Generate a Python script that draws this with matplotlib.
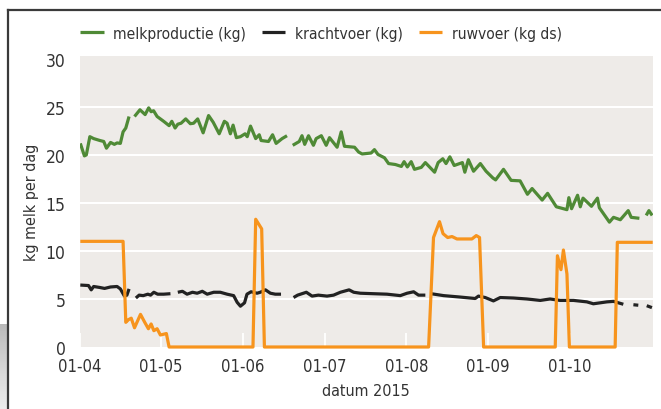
import matplotlib
matplotlib.use('Agg')
import matplotlib.pyplot as plt
import numpy as np
from matplotlib.lines import Line2D
from matplotlib import font_manager as fm

cands = [f for f in fm.fontManager.ttflist
         if 'narrow' in f.name.lower() or 'condensed' in f.name.lower()
         or 'condensed' in str(f.stretch).lower() or 'narrow' in f.fname.lower()
         or 'condensed' in f.fname.lower()]
cond_family = None
for f in cands:
    if 'Liberation' in f.name and 'Narrow' in f.name:
        cond_family = f.name
        break
if cond_family is None:
    for f in cands:
        if 'DejaVu Sans' in f.name or 'DejaVuSansCondensed' in f.fname:
            cond_family = f.name
            break
plt.rcParams['font.family'] = ['DejaVu Sans']
plt.rcParams['font.stretch'] = 'condensed'

nan = np.nan

# x = day index, 0 = 1 April 2015
tick_days = [0, 30, 60, 90, 120, 150, 180]
tick_labels = ['01-04', '01-05', '01-06', '01-07', '01-08', '01-09', '01-10']

melk_dag = [0.3, 1.8, 2.5, 3.8, 5.2, 7.5, 8.9, 9.9, 11.4, 12.8, 13.8, 15.0, 16.0, 17.0, 18.2,
            19.2,
            20.2, 22.2, 24.1, 25.4, 26.3, 27.2, 28.5, 30.9, 32.9, 33.9, 35.1, 36.1, 37.3, 39.0,
            40.7, 41.9, 43.4, 45.4, 47.4, 49.1, 51.3, 53.2, 54.2, 55.4, 56.4, 57.6, 59.1, 60.8,
            61.6, 62.8, 64.7, 66.0, 66.7, 69.4, 70.9, 72.2, 74.4, 76.2,
            77.2,
            78.3, 80.7, 81.7, 82.7, 84.1, 85.9, 86.9, 88.8, 90.6, 91.8, 94.6, 96.1, 97.3, 101.0,
            102.5, 103.8, 107.1, 108.3, 109.6, 112.0, 113.5, 116.0, 118.2, 119.2, 120.4, 121.8,
            123.0, 125.5, 127.0, 130.4, 131.7, 133.4, 134.6, 136.0, 137.6, 140.6, 141.5, 142.8,
            144.7, 147.2, 149.3, 151.8, 152.8, 155.7, 158.5, 161.8, 164.5, 166.2, 169.9, 171.9,
            175.1, 179.0, 179.7, 180.7, 182.9, 183.9, 184.9, 188.0, 190.2, 190.9, 194.6, 196.1,
            198.6, 201.5, 202.6, 205.6,
            206.8,
            208.1, 209.1, 210.3]
melk_kg = [21.2, 19.9, 20.0, 21.9, 21.7, 21.5, 21.4, 20.7, 21.3, 21.1, 21.25, 21.2, 22.4, 22.8, 24.0,
           nan,
           24.0, 24.7, 24.2, 24.9, 24.5, 24.6, 24.0, 23.5, 23.05, 23.5, 22.8, 23.2, 23.3, 23.75,
           23.25, 23.3, 23.75, 22.3, 24.1, 23.4, 22.2, 23.5, 23.3, 22.2, 23.1, 21.8, 21.9, 22.2,
           21.9, 23.0, 21.7, 22.1, 21.5, 21.4, 22.1, 21.2, 21.7, 22.0,
           nan,
           21.0, 21.4, 22.0, 21.1, 22.0, 21.0, 21.7, 22.0, 21.0, 21.8, 20.8, 22.4, 20.9, 20.8,
           20.3, 20.1, 20.2, 20.55, 20.05, 19.7, 19.1, 19.0, 18.8, 19.3, 18.75, 19.3,
           18.5, 18.7, 19.2, 18.2, 19.2, 19.6, 19.1, 19.8, 18.9, 19.2, 18.2, 19.5,
           18.3, 19.1, 18.3, 17.6, 17.4, 18.5, 17.35, 17.3, 15.9, 16.5, 15.3, 16.0,
           14.6, 14.3, 15.55, 14.4, 15.8, 14.6, 15.5, 14.65, 15.5, 14.5, 13.0, 13.5,
           13.25, 14.2, 13.5, 13.4,
           nan,
           13.7, 14.2, 13.7]

kracht_dag = [0.3, 3.3, 4.3, 5.2, 7.4, 9.2, 11.4, 13.8, 15.0, 16.5, 17.4, 18.2,
              19.4,
              20.7, 21.9, 23.4, 25.1, 26.1, 27.3, 28.7, 30.9, 33.4,
              34.7,
              36.1, 37.8, 39.5, 41.5, 43.2, 45.1, 46.9, 49.3, 51.7, 54.2, 56.6, 57.9, 59.1, 60.6,
              61.5, 63.0, 65.2, 66.4, 68.3, 70.1, 71.9, 74.0,
              76.3,
              78.6, 80.1, 83.3, 85.4, 87.7, 90.9, 93.3, 95.8, 99.0, 100.7, 103.1, 107.9, 112.9,
              117.8, 120.3, 122.7, 124.5, 127.0,
              128.0,
              129.1, 133.7, 139.8, 145.3, 146.5, 149.0, 152.0, 154.5, 159.4, 164.3, 169.2, 172.8,
              176.5, 181.4, 186.3, 188.7, 193.7, 196.1, 199.7,
              201.5,
              203.4, 205.2,
              206.7,
              208.3, 210.2]
kracht_kg = [6.45, 6.4, 5.95, 6.3, 6.2, 6.1, 6.25, 6.3, 6.05, 5.3, 5.4, 6.05,
             nan,
             5.1, 5.4, 5.35, 5.5, 5.4, 5.7, 5.5, 5.5, 5.55,
             nan,
             5.7, 5.8, 5.5, 5.7, 5.6, 5.8, 5.5, 5.7, 5.7, 5.5, 5.35, 4.65, 4.25, 4.6,
             5.5, 5.75, 5.6, 5.7, 5.95, 5.6, 5.5, 5.5,
             nan,
             5.15, 5.4, 5.7, 5.3, 5.4, 5.3, 5.4, 5.7, 5.95, 5.7, 5.6, 5.55, 5.5,
             5.35, 5.6, 5.75, 5.4, 5.4,
             nan,
             5.55, 5.35, 5.2, 5.05, 5.3, 5.15, 4.8, 5.15, 5.1, 5.0, 4.85, 5.0,
             4.85, 4.85, 4.7, 4.5, 4.7, 4.75, 4.45,
             nan,
             4.4, 4.35,
             nan,
             4.3, 4.1]

ruw_dag = [0.3, 16.0, 17.0, 18.0, 19.0, 20.2, 22.4, 23.9, 25.3, 26.3, 27.3, 28.5, 29.7, 31.9,
           32.9, 63.7, 64.7, 66.9, 67.9, 128.2, 130.0, 132.2, 133.5, 135.2, 136.8, 138.6,
           144.1, 145.7, 146.9, 148.4, 174.7, 175.5, 176.8, 177.7, 179.0, 179.9, 196.7,
           197.5, 210.5]
ruw_kg = [11.0, 11.0, 2.57, 2.85, 3.0, 2.0, 3.4, 2.6, 1.9, 2.4, 1.7, 1.9, 1.25, 1.4,
          0, 0, 13.3, 12.3, 0, 0, 11.4, 13.05, 11.8, 11.4, 11.5, 11.25,
          11.25, 11.6, 11.4, 0, 0, 9.5, 8.05, 10.1, 7.6, 0, 0,
          10.9, 10.9]

W, H = 661, 410
fig = plt.figure(figsize=(W / 100, H / 100), dpi=100)
fig.patch.set_facecolor('white')

fig.add_artist(Line2D([8 / W, 1.0], [1 - 11 / H, 1 - 11 / H], color='#3a3a3a', lw=1.6,
                      transform=fig.transFigure))
fig.add_artist(Line2D([8 / W, 8 / W], [0, 1 - 11 / H], color='#3a3a3a', lw=1.6,
                      transform=fig.transFigure))
gax = fig.add_axes([0, 0, 7 / W, 85 / H])
grad = np.linspace(0, 1, 50).reshape(-1, 1)
gax.imshow(grad, aspect='auto', cmap='Greys_r', vmin=-2.5, vmax=1.6, origin='upper')
gax.axis('off')

ax = fig.add_axes([79.5 / W, 1 - 348 / H, (653 - 79.5) / W, (348 - 57) / H])
ax.set_facecolor('#eeebe8')
for s in ax.spines.values():
    s.set_visible(False)

for yv in [5, 10, 15, 20, 25]:
    ax.axhline(yv, color='white', lw=1.5, zorder=1)

green = '#4f8a36'
orange = '#f7941d'
black = '#222222'

l1, = ax.plot(melk_dag, melk_kg, color=green, lw=2.3, solid_joinstyle='round',
              solid_capstyle='butt', zorder=3, label='melkproductie (kg)')
l2, = ax.plot(kracht_dag, kracht_kg, color=black, lw=2.3, solid_joinstyle='round',
              solid_capstyle='butt', zorder=3, label='krachtvoer (kg)')
l3, = ax.plot(ruw_dag, ruw_kg, color=orange, lw=2.3, solid_joinstyle='round',
              solid_capstyle='butt', zorder=4, clip_on=False, label='ruwvoer (kg ds)')

ax.set_xlim(0, 210.6)
ax.set_ylim(0, 30.3)
ax.set_yticks([0, 5, 10, 15, 20, 25, 30])
ax.set_yticklabels(['0', '5', '10', '15', '20', '25', '30'])
ax.set_xticks(tick_days)
ax.set_xticklabels(tick_labels)
ax.tick_params(axis='y', length=0, pad=10, labelsize=12.5, labelcolor='#333333')
ax.tick_params(axis='x', direction='in', length=10, width=1.3, color='white',
               pad=7, labelsize=12, labelcolor='#333333')

ax.set_ylabel('kg melk per dag', fontsize=11.5, color='#333333', labelpad=5)
ax.set_xlabel('datum 2015', fontsize=11.5, color='#333333', labelpad=6)

fig.legend(handles=[l1, l2, l3], loc='center', bbox_to_anchor=(321 / W, 1 - 34 / H),
           ncol=3, frameon=False, fontsize=11.2, handlelength=1.5, handletextpad=0.6,
           columnspacing=1.05, labelcolor='#333333')

if cond_family is not None:
    for t in fig.findobj(matplotlib.text.Text):
        t.set_family([cond_family, 'DejaVu Sans'])

fig.savefig('out.png', dpi=100, facecolor='white')
